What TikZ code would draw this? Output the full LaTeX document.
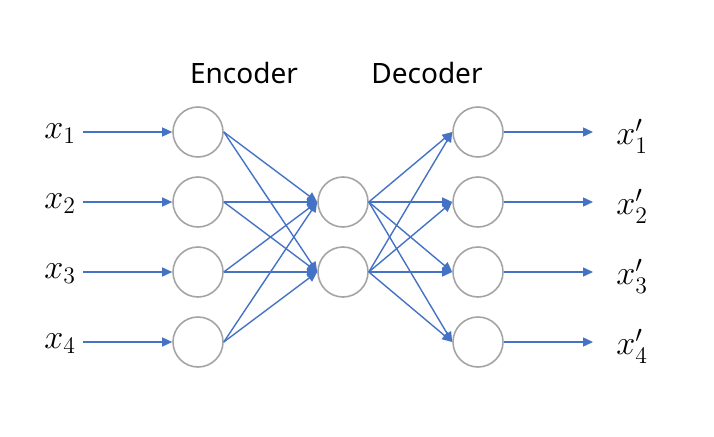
\documentclass[tikz,border=0pt]{standalone}
\usepackage{amsmath}
\usepackage{fontspec}
\setsansfont{Noto Sans}
\usepackage{tikz}
\usetikzlibrary{calc,positioning,arrows.meta}
\definecolor{aeblue}{HTML}{4472C4}
\definecolor{aegray}{HTML}{A5A5A5}
\tikzset{
 ae unit/.style={circle,draw=aegray,line width=1.6pt,fill=white,
                 minimum size=50pt,inner sep=0pt},
 ae edge/.style={aeblue,line width=1.4pt,-{Triangle[length=10pt,width=9pt]}},
 ae var/.style={font=\huge,scale=1.65,inner sep=0pt},
 ae title/.style={font=\sffamily\fontsize{28}{32}\selectfont}
}
\begin{document}
\begin{tikzpicture}[x=1pt,y=-1pt]
 \useasboundingbox (0,0) rectangle (714,436);

 % layers of units
 \foreach \i/\y in {1/132,2/202,3/272,4/342}{
   \node[ae unit] (in\i) at (198,\y) {};
   \node[ae unit] (out\i) at (478,\y) {};
   \coordinate (src\i) at (83,\y);
   \coordinate (dst\i) at (593,\y);
 }
 \node[ae unit] (hid1) at (343,202) {};
 \node[ae unit] (hid2) at (343,272) {};

 \node[ae title] (enc) at (244,73) {Encoder};
 \node[ae title] (dec) at (427,73) {Decoder};

 % inputs and outputs
 \foreach \i/\y in {1/132,2/202,3/272,4/342}{
   \node[ae var] (xin\i) at (60,\y+2) {$x_{\i}$};
   \node[ae var] (xout\i) at (632,\y+4) {$x'_{\i}$};
   \draw[ae edge] (src\i) -- (in\i.west);
   \draw[ae edge] (out\i.east) -- (dst\i);
 }

 % fully connected layers
 \foreach \i in {1,...,4}
   \foreach \j in {1,2}{
     \draw[ae edge] (in\i.east) -- (hid\j.west);
     \draw[ae edge] (hid\j.east) -- (out\i.west);
   }
\end{tikzpicture}
\end{document}
